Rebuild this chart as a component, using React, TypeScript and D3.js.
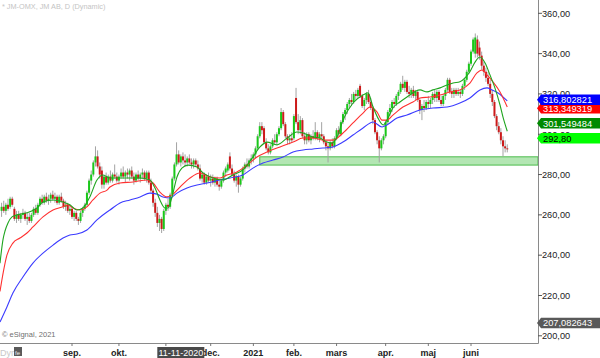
import React from "react";
import * as d3 from "d3";

// ---------- DATA ----------
const START = "2020-07-16";
const END = "2021-06-24";
const HOLIDAYS = ["2020-12-24", "2020-12-25", "2020-12-31", "2021-01-01", "2021-01-06", "2021-04-02", "2021-04-05", "2021-05-13"];

// [open, high, low, close] per trading day
const OHLC: [number, number, number, number][] = [
  [262, 266, 259, 264], [264, 267, 261, 262], [262, 266, 260, 265], [265, 268, 262, 263], [264, 269, 263, 268],
  [268, 269, 264, 265], [263, 264, 257, 258], [258, 262, 256, 260], [260, 262, 257, 258], [258, 261, 256, 260],
  [260, 263, 258, 261], [261, 262, 257, 258], [258, 261, 255, 259], [259, 261, 256, 257], [257, 261, 256, 260],
  [260, 264, 259, 263], [263, 265, 260, 261], [261, 266, 260, 265], [265, 269, 264, 268], [268, 270, 265, 266],
  [266, 270, 265, 269], [269, 271, 266, 267], [267, 270, 265, 268], [268, 271, 266, 270], [270, 272, 267, 268],
  [268, 271, 266, 269], [269, 270, 265, 266], [266, 270, 265, 269], [269, 271, 266, 267], [267, 268, 263, 264],
  [264, 267, 262, 265], [265, 266, 261, 262], [262, 265, 260, 263], [263, 264, 258, 259], [259, 262, 257, 261],
  [261, 262, 257, 258], [258, 259, 255, 257], [257, 262, 256, 261], [261, 264, 259, 263], [263, 266, 262, 265],
  [265, 272, 264, 271], [271, 278, 270, 277], [277, 282, 275, 280], [280, 287, 279, 286], [286, 294, 284, 289],
  [289, 292, 283, 284], [284, 286, 278, 280], [282, 284, 273, 275], [275, 280, 273, 279], [279, 281, 275, 276],
  [276, 280, 275, 279], [279, 282, 276, 277], [277, 281, 276, 280], [280, 285, 278, 279], [279, 281, 276, 277],
  [277, 280, 275, 279], [279, 283, 278, 281], [281, 284, 278, 279], [279, 282, 276, 281], [281, 283, 278, 280],
  [280, 283, 277, 282], [282, 284, 278, 279], [279, 281, 275, 277], [277, 281, 276, 280], [280, 282, 277, 278],
  [278, 281, 276, 280], [280, 283, 278, 281], [281, 282, 277, 278], [278, 282, 276, 281], [281, 282, 275, 276],
  [276, 278, 271, 272], [272, 273, 264, 266], [266, 268, 259, 261], [261, 264, 254, 256], [256, 260, 252, 258],
  [258, 259, 251, 253], [253, 263, 252, 262], [262, 266, 260, 265], [265, 268, 262, 264], [264, 271, 263, 270],
  [270, 279, 269, 278], [278, 286, 277, 285], [285, 296, 284, 290], [290, 292, 285, 286], [286, 290, 284, 289],
  [289, 291, 285, 287], [287, 290, 284, 286], [286, 289, 284, 288], [288, 290, 285, 286], [286, 288, 283, 285],
  [285, 288, 283, 287], [287, 288, 284, 285], [285, 287, 282, 283], [283, 285, 277, 278], [278, 281, 276, 280],
  [280, 281, 275, 276], [276, 280, 275, 279], [279, 281, 276, 277], [277, 280, 274, 278], [278, 280, 275, 276],
  [276, 279, 274, 278], [278, 279, 274, 275], [275, 277, 272, 274], [274, 278, 273, 277], [277, 282, 276, 281],
  [281, 284, 279, 283], [282, 286, 281, 285], [289, 291, 282, 283], [283, 285, 279, 280], [280, 282, 276, 277],
  [277, 280, 274, 279], [279, 280, 271, 275], [275, 279, 274, 278], [278, 284, 277, 283], [283, 286, 281, 285],
  [285, 288, 283, 284], [284, 288, 283, 287], [287, 290, 285, 288], [288, 291, 286, 290], [290, 294, 288, 293],
  [293, 300, 292, 299], [299, 306, 298, 304], [304, 306, 300, 302], [303, 304, 295, 296], [296, 298, 292, 293],
  [293, 295, 290, 291], [291, 295, 290, 294], [294, 298, 293, 297], [297, 300, 295, 296], [296, 301, 295, 300],
  [300, 304, 299, 303], [303, 313, 302, 311], [311, 312, 304, 305], [305, 306, 298, 299], [299, 300, 295, 297],
  [297, 300, 295, 298], [298, 301, 296, 297], [298, 310, 297, 309], [318, 323, 305, 306], [306, 310, 300, 302],
  [302, 309, 300, 307], [307, 308, 298, 299], [299, 301, 295, 297], [297, 301, 295, 300], [300, 301, 296, 297],
  [297, 300, 295, 299], [299, 302, 297, 298], [298, 306, 297, 301], [301, 302, 297, 298], [298, 301, 296, 300],
  [300, 306, 298, 299], [299, 300, 295, 296], [296, 297, 292, 294], [294, 296, 286, 293], [293, 297, 292, 296],
  [296, 298, 293, 294], [294, 299, 293, 298], [298, 303, 297, 302], [302, 304, 299, 300], [300, 307, 299, 306],
  [306, 311, 305, 310], [310, 313, 307, 312], [312, 316, 310, 315], [315, 318, 313, 317], [317, 320, 314, 316],
  [316, 321, 315, 320], [320, 322, 317, 319], [319, 323, 318, 322], [324, 325, 318, 319], [319, 320, 313, 314],
  [314, 318, 312, 317], [317, 321, 315, 320], [320, 322, 315, 316], [316, 318, 312, 313], [313, 314, 305, 307],
  [307, 308, 300, 301], [301, 302, 295, 297], [297, 299, 286, 293], [293, 298, 292, 297], [297, 300, 295, 299],
  [299, 307, 298, 306], [306, 312, 305, 311], [311, 315, 309, 313], [313, 317, 311, 316], [316, 318, 313, 315],
  [315, 320, 314, 319], [319, 322, 317, 321], [321, 326, 320, 325], [325, 329, 322, 323], [323, 327, 321, 326],
  [326, 327, 320, 321], [321, 324, 318, 320], [320, 323, 318, 322], [322, 324, 318, 319], [319, 322, 317, 321],
  [321, 322, 316, 317], [317, 318, 310, 312], [312, 315, 307, 314], [314, 317, 311, 313], [313, 317, 312, 316],
  [316, 319, 313, 315], [315, 318, 313, 317], [317, 321, 315, 320], [320, 322, 316, 318], [318, 322, 316, 321],
  [321, 322, 316, 317], [317, 319, 314, 315], [315, 320, 314, 319], [319, 323, 317, 322], [322, 328, 321, 327],
  [327, 328, 320, 321], [321, 323, 318, 320], [320, 323, 318, 322], [322, 323, 319, 320], [320, 323, 319, 321],
  [321, 322, 318, 320], [320, 325, 319, 324], [324, 328, 322, 327], [327, 332, 326, 331], [331, 336, 330, 335],
  [335, 342, 334, 341], [341, 348, 340, 347], [340, 350, 338, 348], [347, 349, 338, 340], [343, 346, 337, 339],
  [339, 341, 332, 334], [334, 336, 329, 331], [331, 333, 326, 328], [328, 331, 324, 325], [325, 327, 318, 320],
  [320, 322, 314, 316], [316, 317, 308, 309], [309, 310, 302, 304], [304, 306, 300, 301], [301, 303, 295, 297],
  [297, 299, 289, 294], [294, 297, 291, 293], [293, 295, 291, 292.8],
];

// moving averages: [trading-day index, value]
const MA_FAST: [number, number][] = [
  [-0.75, 236], [0.7, 248], [1.6, 252], [3, 256], [4.9, 259], [7.2, 260], [11.9, 261], [16.6, 263.4], [19.4, 266.4],
  [24.1, 267.4], [28.8, 266.4], [32, 265], [35.3, 262.4], [38.1, 263.4], [41.4, 269], [44.7, 277.3], [47.5, 279.8],
  [50.8, 278.3], [58.8, 278.3], [64.9, 278.3], [69.5, 277.3], [71.9, 273.3], [74.2, 267.4], [76.6, 263.4], [78, 263.4],
  [79.9, 269], [82.2, 278.8], [84.5, 283.2], [87.4, 284.7], [91.6, 283.7], [94.4, 280.8], [99.1, 278.3], [103.8, 277.3],
  [108.4, 279.8], [113.1, 282.3], [117.8, 288.7], [121.1, 293.7], [124.4, 296.1], [129.1, 294.7], [133.8, 298.1],
  [138.4, 301.1], [141.3, 300.6], [145.9, 298.6], [149.2, 298.1], [152.5, 296.1], [154.8, 295.6], [157.2, 298.6],
  [160, 307], [164.7, 315.5], [169.4, 319.5], [171.7, 320.5], [174.1, 313.5], [176.4, 308], [178.8, 304.6], [181.1, 308],
  [183.4, 313], [186.7, 316], [190, 318.5], [196.1, 322], [199.4, 321], [202.2, 322], [205.5, 323], [208.8, 324.4],
  [211.6, 325.4], [214.8, 326], [217.2, 328], [219.5, 331], [221.9, 335.8], [224.2, 338.3], [226.6, 335.3],
  [228.9, 329.4], [231.2, 323], [233.6, 314.5], [235, 308.5], [237, 301.5],
];
const MA_MID: [number, number][] = [
  [-0.75, 222], [0.8, 231.6], [2.5, 240], [5.3, 246], [8.6, 248.5], [11.9, 251], [14.7, 254], [19.4, 259], [24.1, 262.4],
  [28.8, 264], [31.1, 265], [33.5, 263.4], [36.7, 262.4], [40, 264], [42.8, 267.4], [46.1, 270.8], [49.4, 272.3],
  [50.8, 273.8], [55.5, 275.8], [61.6, 276.3], [68.2, 277.3], [71, 275.8], [74.2, 271.3], [77.5, 268.9], [79.9, 269.9],
  [83.6, 273.8], [88.3, 278.3], [93, 280.8], [97.7, 278.8], [102.4, 278.3], [105.6, 279.8], [110.3, 281.3], [115, 284.7],
  [119.7, 288.7], [124.4, 291.2], [130.5, 293.7], [136.6, 296.1], [141.3, 298.1], [146, 298.1], [150.6, 297.1],
  [155.3, 297.1], [160, 300.6], [164.7, 305.6], [169.4, 310.5], [172.7, 313.5], [176, 311], [178.3, 307], [180.6, 307],
  [183.4, 309.5], [188.1, 313.5], [192.8, 316], [196.1, 318], [200.8, 318.5], [205.5, 319.5], [210.2, 321], [214.8, 322],
  [219.5, 325.4], [222.8, 330.4], [225.2, 331.9], [227.5, 329.4], [230.3, 326], [233.6, 321], [237, 313.5],
];
const MA_SLOW: [number, number][] = [
  [-0.75, 206.8], [2.5, 214.3], [5.3, 221.2], [10, 229.2], [14.7, 236.1], [19.4, 241], [24.1, 245], [28.8, 248.5],
  [32, 250], [35.3, 250.5], [40, 252.5], [44.7, 257.5], [49.4, 261.4], [50.8, 262.4], [55.5, 265.9], [60.2, 267.4],
  [64.9, 268.9], [69.5, 270.8], [72.8, 270.3], [75.6, 268.9], [79, 268.4], [82.2, 270.8], [86.9, 273.3], [91.6, 274.8],
  [96.3, 275.8], [102.4, 277.3], [107.1, 278.3], [113.1, 279.8], [117.8, 283.2], [122.5, 285.7], [127.2, 287.2],
  [131.9, 288.7], [136.6, 291.2], [141.3, 292.2], [146, 292.7], [150.6, 293.2], [155.3, 293.7], [160, 296.1],
  [164.7, 299.6], [169.4, 303.1], [174.1, 306.1], [178.3, 303.6], [180.6, 304.6], [185.3, 308], [190, 309.5],
  [196.1, 312], [202.2, 313], [208.8, 313.5], [214.8, 315.5], [219.5, 318], [224.2, 322], [227.5, 323], [229.9, 322],
  [232.7, 320.5], [237, 316.5],
];

const SUPPORT_START = "2021-01-08";
const SUPPORT_ZONE = [284.7, 288.8];

const MONTH_KEYS = ["2020-09", "2020-10", "2020-11", "2020-12", "2021-01", "2021-02", "2021-03", "2021-04", "2021-05", "2021-06"];
const MONTH_LABELS = ["sep.", "okt.", "nov.", "dec.", "2021", "feb.", "mars", "apr.", "maj", "juni"];
const Y_TICKS = [200, 220, 240, 260, 280, 300, 320, 340, 360];

const TAG_VALUES = [313.349319, 316.802821, 301.549484, 292.8, 207.082643];
const TAG_TEXTS = ["313,349319", "316,802821", "301,549484", "292,80", "207,082643"];

const TITLE = "* JM-OMX, JM AB, D (Dynamic)";
const COPYRIGHT = "© eSignal, 2021";
const CURSOR_DATE = "2020-11-11";
const CURSOR_TEXT = "11-11-2020";

// ---------- STYLE ----------
const W = 600, H = 358;
const PLOT_R = 538, PLOT_B = 343;
const TAG_FILLS = ["#ff0000", "#0000ff", "#008a00", "#00ff00", "#595959"];
const TAG_TEXT_COLORS = ["#fff", "#fff", "#fff", "#000", "#fff"];
const TAG_SHIFT = [0.8, -0.5, -7.8, -10.4, 1.5];
const FONT = "'Liberation Sans', Arial, sans-serif";
const CURSOR_HALF_W = 23.5;

export default function App() {
  const fmt = d3.timeFormat("%Y-%m-%d");
  const hol = new Set(HOLIDAYS);
  const dates = d3.timeDay
    .range(new Date(START + "T00:00:00"), d3.timeDay.offset(new Date(END + "T00:00:00"), 1))
    .filter((d) => d.getDay() !== 0 && d.getDay() !== 6 && !hol.has(fmt(d)))
    .map(fmt);

  const iSep = dates.indexOf("2020-09-01");
  const iJun = dates.indexOf("2021-06-01");
  const x = d3.scaleLinear().domain([iSep, iJun]).range([72, 471]);
  const y = d3.scaleLinear().domain([200, 360]).range([335.8, 13.3]);

  const line = d3
    .line<[number, number]>()
    .x((d) => x(d[0]))
    .y((d) => y(d[1]))
    .curve(d3.curveMonotoneX);

  const monthIdx = MONTH_KEYS.map((k) => dates.findIndex((d) => d.startsWith(k)));
  const supIdx = dates.indexOf(SUPPORT_START);
  const curIdx = dates.indexOf(CURSOR_DATE);
  const curX = x(curIdx);

  const bodyW = 2;

  return (
    <svg width={W} height={H} style={{ position: "fixed", left: 0, top: 0, background: "#fff" }} fontFamily={FONT}>
      <defs>
        <clipPath id="plot">
          <rect x={0} y={0} width={PLOT_R} height={PLOT_B} />
        </clipPath>
      </defs>
      <rect x={0} y={0} width={W} height={H} fill="#fff" />

      <g clipPath="url(#plot)">
        {/* support zone */}
        <rect
          x={x(supIdx)}
          y={y(SUPPORT_ZONE[1])}
          width={PLOT_R - x(supIdx)}
          height={y(SUPPORT_ZONE[0]) - y(SUPPORT_ZONE[1])}
          fill="#b3e6b3"
          stroke="#4cbc4c"
          strokeWidth={1}
        />
        {/* candles */}
        {OHLC.map((c, i) => {
          const [o, h, l, cl] = c;
          const cx = x(i);
          const up = cl >= o;
          const top = y(Math.max(o, cl));
          const bot = y(Math.min(o, cl));
          return (
            <g key={i}>
              <line x1={cx} x2={cx} y1={y(h)} y2={y(l)} stroke="#a3a3a3" strokeWidth={1} />
              <rect
                x={cx - bodyW / 2}
                y={top}
                width={bodyW}
                height={Math.max(1, bot - top)}
                fill={up ? "#19c819" : "#cc1a1a"}
              />
            </g>
          );
        })}
        {/* moving averages */}
        <path d={line(MA_SLOW) || ""} fill="none" stroke="#3b3bff" strokeWidth={1.1} />
        <path d={line(MA_MID) || ""} fill="none" stroke="#ff3030" strokeWidth={1.1} />
        <path d={line(MA_FAST) || ""} fill="none" stroke="#1fa51f" strokeWidth={1.1} />
      </g>

      {/* title & copyright */}
      <text x={2} y={9} fontSize={7.3} fill="#c4c4c4">{TITLE}</text>
      <text x={2} y={337} fontSize={7.5} fill="#707070">{COPYRIGHT}</text>

      {/* axes */}
      <line x1={0} x2={PLOT_R + 0.5} y1={PLOT_B + 0.5} y2={PLOT_B + 0.5} stroke="#8a8a8a" />
      <line x1={PLOT_R + 0.5} x2={PLOT_R + 0.5} y1={0} y2={PLOT_B + 0.5} stroke="#8a8a8a" />

      {/* y ticks */}
      {Y_TICKS.map((v) => (
        <g key={v}>
          <line x1={PLOT_R} x2={PLOT_R + 4} y1={y(v)} y2={y(v)} stroke="#555" />
          <text x={542} y={y(v) + 3.3} fontSize={9.2} fill="#222">
            {d3.format(".2f")(v).replace(".", ",")}
          </text>
        </g>
      ))}

      {/* x ticks (label hidden when fully covered by the cursor date box) */}
      {monthIdx.map((mi, k) => {
        const tx = x(mi);
        const hidden = Math.abs(tx - curX) < CURSOR_HALF_W - 8;
        return (
          <g key={k}>
            <line x1={tx} x2={tx} y1={PLOT_B} y2={PLOT_B + 3} stroke="#777" />
            {!hidden && (
              <text x={tx} y={356} fontSize={9} fontWeight="bold" textAnchor="middle" fill="#222">
                {MONTH_LABELS[k]}
              </text>
            )}
          </g>
        );
      })}

      {/* cursor date box */}
      <rect x={curX - CURSOR_HALF_W} y={347} width={CURSOR_HALF_W * 2} height={11} fill="#4a4a4a" />
      <text x={curX} y={355.8} fontSize={9} textAnchor="middle" fill="#fff">{CURSOR_TEXT}</text>

      {/* Dyn indicator */}
      <text x={0} y={356} fontSize={9} fill="#c8c8c8">Dyn</text>
      <rect x={14} y={347} width={8} height={9} fill="#5a5a5a" />
      <text x={15} y={354.5} fontSize={6} fill="#eee">fe</text>

      {/* price tags */}
      {TAG_VALUES.map((v, k) => {
        const cy = y(v) + TAG_SHIFT[k];
        const h = 10.5;
        const pts = [
          [537, cy],
          [541, cy - h / 2],
          [600, cy - h / 2],
          [600, cy + h / 2],
          [541, cy + h / 2],
        ]
          .map((p) => p.join(","))
          .join(" ");
        return (
          <g key={k}>
            <polygon points={pts} fill={TAG_FILLS[k]} />
            <text x={543} y={cy + 3.4} fontSize={9.3} fill={TAG_TEXT_COLORS[k]}>
              {TAG_TEXTS[k]}
            </text>
          </g>
        );
      })}
    </svg>
  );
}
